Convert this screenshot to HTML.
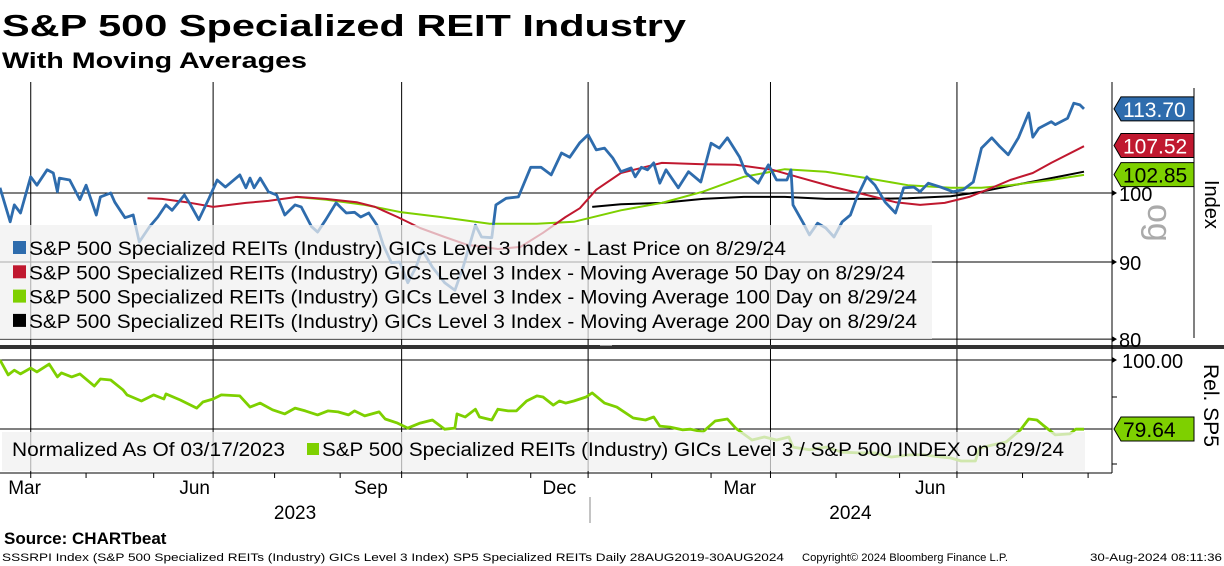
<!DOCTYPE html>
<html><head><meta charset="utf-8"><style>
html,body{margin:0;padding:0;background:#fff;}
svg{display:block;font-family:"Liberation Sans","DejaVu Sans",sans-serif;}
</style></head><body>
<svg id="chart" width="1224" height="566" viewBox="0 0 1224 566" xmlns="http://www.w3.org/2000/svg">
<text x="2" y="36" font-size="31" font-weight="bold" textLength="684" lengthAdjust="spacingAndGlyphs">S&amp;P 500 Specialized REIT Industry</text>
<text x="2" y="68" font-size="22" font-weight="bold" textLength="305" lengthAdjust="spacingAndGlyphs">With Moving Averages</text>
<g id="grid"></g>
<g id="series"></g>
<g id="legends"></g>
<g id="axes"></g>
<text x="4" y="544" font-size="17" font-weight="bold">Source: CHARTbeat</text>
<text x="2" y="561" font-size="11" textLength="782" lengthAdjust="spacingAndGlyphs">SSSRPI Index (S&amp;P 500 Specialized REITs (Industry) GICs Level 3 Index) SP5 Specialized REITs  Daily 28AUG2019-30AUG2024</text>
<text x="802" y="561" font-size="11" textLength="206" lengthAdjust="spacingAndGlyphs">Copyright© 2024 Bloomberg Finance L.P.</text>
<text x="1090" y="561" font-size="11" textLength="132" lengthAdjust="spacingAndGlyphs">30-Aug-2024 08:11:36</text>
</svg>
<script>
const priceDays=[0,5,7,10,15,18,23,26,28,29,34,39,42,47,49,54,56,61,65,68,73,77,81,84,90,93,97,102,106,110,117,120,122,124,127,131,135,139,144,147,152,155,159,164,169,173,176,180,184,187,191,195,199,203,206,211,217,222,226,232,235,240,242,247,253,259,264,269,274,278,283,287,291,295,299,303,308,310,313,316,319,322,325,331,336,342,347,351,355,361,364,370,375,379,384,386,387,392,395,399,403,407,411,415,418,423,427,432,437,441,446,449,453,459,465,470,475,479,484,488,492,497,502,504,507,513,515,521,524,527,529];
const priceVals=[100.8,95.7,98.2,97,102.5,101.2,103.6,103.1,100.2,102.3,102,99,101.2,96.7,99.4,100,98.6,96.3,96.7,92.8,95,96.4,98.2,97.4,99.7,98.2,96,99.2,102,100.9,102.8,100.8,102.3,100.8,102.3,100.2,99.7,96.7,98.2,97.9,95,94.2,96,98.5,97,97.1,96.4,97,95.2,92.4,89.9,90,87.2,89.3,91.7,89.3,87.2,86.2,89.3,95.2,93.5,93.4,98.2,99.2,99.4,104,104,102.8,106.3,105.6,108,109.3,106.8,107.1,105.5,103.3,103.9,102.5,104,103.6,104.7,101.5,103.6,100.8,103.3,101.7,107.9,107.1,108.8,105.6,103.1,101.5,104.4,102,102,103.6,98.2,95.5,93.8,95.5,94.8,93.5,95.7,96.7,99.2,102.5,101.2,98.6,97,100.8,100.9,100.2,101.5,100.9,100.2,100.5,101.7,107.1,108.8,107.3,106,108.8,113,108.9,110.4,111.5,111,112.1,114.7,114.4,113.7];
const ma50Days=[72,79,91,104,120,131,145,159,174,183,194,205,217,228,243,254,265,276,283,291,303,323,343,359,377,389,407,423,437,449,461,473,484,493,504,513,529];
const ma50Vals=[99.2,99.1,98.6,97.9,98.5,98.8,99.4,99.1,98.6,97.9,96.4,94.8,93.5,92.4,91.8,92.1,94.1,96.4,97.7,100.5,103.1,104.7,104.5,104.4,103.6,102.5,100.9,99.7,98.6,98.2,98.5,99.4,100.8,102,103.1,104.7,107.4];
const ma100Days=[144,159,178,196,215,239,262,280,303,323,343,363,383,403,423,443,464,479,493,513,529];
const ma100Vals=[99.4,99,98.2,97.1,96.4,95.4,95.4,95.7,97.4,98.5,100.2,102.5,103.7,103.3,102.3,101.2,100.8,100.8,101.2,102,102.8];
const ma200Days=[289,303,323,343,363,383,403,423,443,464,479,493,513,529];
const ma200Vals=[97.9,98.3,98.5,99.1,99.4,99.4,99.1,99.1,99.2,99.5,100.2,101.1,102.3,103.3];
const relDays=[0,4,7,10,15,18,24,28,30,35,39,46,49,54,60,62,69,75,80,81,88,96,99,104,108,117,122,127,133,139,144,149,155,160,165,170,173,178,185,188,194,199,205,211,217,222,223,227,232,234,240,243,248,252,257,262,265,270,273,276,280,286,289,295,301,309,315,319,322,327,333,337,343,349,355,359,367,373,379,385,387,395,403,411,419,427,435,444,451,459,464,469,476,478,484,491,498,502,506,509,515,522,525,529];
const relVals=[100,95.6,97,95.9,97.6,96.5,98.8,95,96.2,95,95.9,92.3,94.4,94.1,91.2,89.7,87.9,89.7,88.5,90,88.2,85.8,87.6,88.5,89.7,89.4,86.1,87.3,85.3,84.1,85.8,85,83.8,85,84.7,83.8,85,83.5,84.7,82.6,81.4,79.9,81.4,82.3,79.6,79.9,84.1,83.2,85.5,83.2,82.3,85.5,85,85,87.9,89.4,89.1,86.7,87.9,87.3,87.9,89.1,90.3,87.3,86.1,82.9,82.3,83.2,80.5,80.2,79.4,79.6,78.8,82,82.6,79.9,76.4,77.3,76.4,77.3,74.3,73.5,74.3,72.8,72.6,72.6,71.4,72,72,71.4,71.1,70.2,70.2,74,74.9,75.8,79.4,82.6,82.3,80.8,77.9,78.2,79.6,79.6];
const topTicks=[100,90,80];
const lastLabels=["113.70","107.52","102.85"];
const relLast="79.64";
const monthLabels=["Mar","Jun","Sep","Dec","Mar","Jun"];
const monthLabelDays=[12,95,181,273,361,454];
const gridDays=[15,104,196,287,376,467];
const minorTickDays=[42,75,134,166,228,259,318,347,408,439,499,531];
const yearLabels=["2023","2024"];

const NS="http://www.w3.org/2000/svg";
const X=d=>d*1084/529;
const YT=v=>193-655*Math.log(v/100);
const YB=v=>360+(100-v)*3.39;
function mk(tag,attrs,parent,txt){const e=document.createElementNS(NS,tag);for(const k in attrs)e.setAttribute(k,attrs[k]);if(txt!==undefined)e.textContent=txt;parent.appendChild(e);return e;}
const grid=document.getElementById('grid'),ser=document.getElementById('series'),leg=document.getElementById('legends'),ax=document.getElementById('axes');

gridDays.forEach(d=>{const l=mk('line',{x1:X(d),x2:X(d),y1:82,y2:473,stroke:'#000','stroke-width':1},grid);

});
topTicks.forEach(v=>{const l=mk('line',{x1:0,x2:1112,y1:YT(v),y2:YT(v),stroke:'#000','stroke-width':1},grid);

});
{const l=mk('line',{x1:0,x2:1112,y1:YB(100),y2:YB(100),stroke:'#000'},grid);


const l2=mk('line',{x1:0,x2:1112,y1:YB(79.64),y2:YB(79.64),stroke:'#000'},grid);

}

function line(days,vals,ys,color,w,name){const p=days.map((d,i)=>(i?'L':'M')+X(d).toFixed(1)+','+ys(vals[i]).toFixed(1)).join('');
const e=mk('path',{d:p,fill:'none',stroke:color,'stroke-width':w,'stroke-linejoin':'round'},ser);

}
line(ma200Days,ma200Vals,YT,'#000',2,'ma200-line');
line(ma100Days,ma100Vals,YT,'#7ed000',2,'ma100-line');
line(ma50Days,ma50Vals,YT,'#c0182f',2,'ma50-line');
line(priceDays,priceVals,YT,'#2e6cad',2.8,'price-line');
line(relDays,relVals,YB,'#7ed000',2.8,'relative-line');

{const r=mk('rect',{x:0,y:225,width:932,height:114,fill:'rgba(240,240,240,0.72)'},leg);


const items=[['#2e6cad','Last Price on 8/29/24',757],['#c0182f','Moving Average 50 Day on 8/29/24',876],['#7ed000','Moving Average 100 Day on 8/29/24',888],['#000','Moving Average 200 Day on 8/29/24',888]];
items.forEach((it,i)=>{const y=249+i*24.3;
const s=mk('rect',{x:13,y:y-8,width:13,height:13,fill:it[0]},leg);


const t=mk('text',{x:29,y:y+6,'font-size':19,textLength:it[2],lengthAdjust:'spacingAndGlyphs'},leg,'S&P 500 Specialized REITs (Industry) GICs Level 3 Index - '+it[1]);

});
const r2=mk('rect',{x:2,y:432,width:1083,height:39,fill:'rgba(240,240,240,0.72)'},leg);


const t1=mk('text',{x:12,y:456,'font-size':19,textLength:273,lengthAdjust:'spacingAndGlyphs'},leg,'Normalized As Of 03/17/2023');


const s2=mk('rect',{x:307,y:443,width:12,height:12,fill:'#7ed000'},leg);


const t2=mk('text',{x:322,y:456,'font-size':19,textLength:742,lengthAdjust:'spacingAndGlyphs'},leg,'S&P 500 Specialized REITs (Industry) GICs Level 3 / S&P 500 INDEX on 8/29/24');

}

{const s=mk('rect',{x:0,y:345,width:1224,height:4,fill:'#333'},ax);


const g=mk('rect',{x:600,y:345,width:12,height:1,fill:'#999'},ax);

}
{const a=mk('line',{x1:1112,x2:1112,y1:82,y2:473,stroke:'#000'},ax);


const a2=mk('line',{x1:1194,x2:1194,y1:88,y2:338,stroke:'#000'},ax);


const b=mk('line',{x1:0,x2:1112,y1:473,y2:473,stroke:'#000'},ax);

}
topTicks.forEach(v=>{const y=YT(v);
const tr=mk('path',{d:`M1112,${y-3}L1117,${y}L1112,${y+3}Z`,fill:'#000'},ax);


const t=mk('text',{x:1119,y:y+8,'font-size':20},ax,String(v));

});
[397,464].forEach(y=>{const t=mk('line',{x1:1112,x2:1117,y1:y,y2:y,stroke:'#000'},ax);

});
{const y=YB(100);
const tr=mk('path',{d:`M1112,${y-3}L1117,${y}L1112,${y+3}Z`,fill:'#000'},ax);


const t=mk('text',{x:1122,y:y+8,'font-size':20},ax,'100.00');

}

function tag(val,v,ys,bg,fg,name){const y=ys(v);
const p=mk('path',{d:`M1114,${y}L1121,${y-12}L1194,${y-12}L1194,${y+12}L1121,${y+12}Z`,fill:bg,stroke:'#000','stroke-width':1},ax);


const t=mk('text',{x:1123,y:y+8,'font-size':21,fill:fg},ax,val);

}
tag(lastLabels[0],parseFloat(lastLabels[0]),YT,'#2e6cad','#fff','last-price-tag');
tag(lastLabels[1],parseFloat(lastLabels[1]),YT,'#c0182f','#fff','ma50-tag');
tag(lastLabels[2],parseFloat(lastLabels[2]),YT,'#7ed000','#000','ma100-tag');
tag(relLast,parseFloat(relLast),YB,'#7ed000','#000','rel-last-tag');

{const t=mk('text',{x:0,y:0,'font-size':20,transform:'translate(1205,180) rotate(90)'},ax,'Index');


const w=mk('text',{x:0,y:0,'font-size':34,fill:'#aaa',transform:'translate(1148,204) rotate(90)'},ax,'og');


const r=mk('text',{x:0,y:0,'font-size':21,transform:'translate(1204,364) rotate(90)'},ax,'Rel. SP5');

}

gridDays.concat(minorTickDays).forEach(d=>{const t=mk('line',{x1:X(d),x2:X(d),y1:473,y2:478,stroke:'#000'},ax);

});
monthLabels.forEach((m,i)=>{const t=mk('text',{x:X(monthLabelDays[i]),y:494,'font-size':19,'text-anchor':'middle'},ax,m);

});
{const s=mk('line',{x1:590,x2:590,y1:497,y2:523,stroke:'#888'},ax);

}
[144,415].forEach((d,i)=>{const t=mk('text',{x:X(d),y:519,'font-size':19,'text-anchor':'middle'},ax,yearLabels[i]);

});
</script>
</body></html>
